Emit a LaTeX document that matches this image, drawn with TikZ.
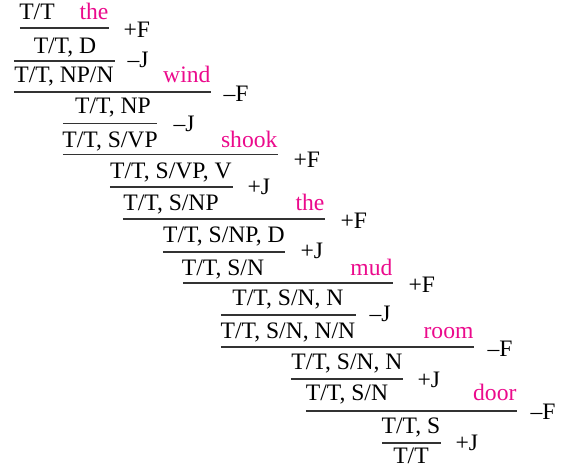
\documentclass[tikz,border=0pt]{standalone}
\usepackage{fontspec}
\setmainfont{Liberation Serif}
\usetikzlibrary{calc}
\definecolor{wordpink}{RGB}{235,10,140}

\begin{document}
\begin{tikzpicture}[%
        x = 0.5pt,
        y = -0.5pt,
        draw = black!80,
        line width = 0.55pt,
        font = \fontsize{11.8}{14}\selectfont,
        cat/.style = {inner sep = 0pt, anchor = base},
        word/.style = {inner sep = 0pt, anchor = base east, text = wordpink},
        rulename/.style = {inner sep = 0pt, anchor = base west},
        ]

\useasboundingbox (0,0) rectangle (570,473);

% categories, top to bottom
\node (c1) [cat] at (37,19) {T/T};
\node (c2) [cat] at (65,53) {T/T, D};
\node (c3) [cat] at (64,82) {T/T, NP/N};
\node (c4) [cat] at (113,113) {T/T, NP};
\node (c5) [cat] at (110,147) {T/T, S/VP};
\node (c6) [cat] at (171,178) {T/T, S/VP, V};
\node (c7) [cat] at (171,210) {T/T, S/NP};
\node (c8) [cat] at (224,242) {T/T, S/NP, D};
\node (c9) [cat] at (223,275) {T/T, S/N};
\node (c10) [cat] at (288,305) {T/T, S/N, N};
\node (c11) [cat] at (288,338) {T/T, S/N, N/N};
\node (c12) [cat] at (347,369) {T/T, S/N, N};
\node (c13) [cat] at (347,400) {T/T, S/N};
\node (c14) [cat] at (411,433) {T/T, S};
\node (c15) [cat] at (411,463) {T/T};

% inference bars
\foreach \LEFT/\RIGHT/\YPOS [count=\INDEX] in {%
        20/109/28, 14/115/61, 14/211/92, 63/157/123.5,
        63/278/154.5, 110/233/187, 123/325/219, 163/285/252,
        183/393/283, 221/356/315, 221/474/347, 291/403/379,
        306/517/411, 382/441/443}{%
    \coordinate (b\INDEX) at (\RIGHT,\YPOS);
    \draw (\LEFT,\YPOS) -- (b\INDEX);
    }

% words, flush with the right end of their bar
\foreach \POSI/\YPOS/\NAME in {b1/19/the, b3/82/wind, b5/147/shook,
        b7/210/the, b9/275/mud, b11/338/room, b13/400/door}{%
    \node (w\POSI) [word] at (\POSI |- 0,\YPOS) {\NAME};
    }

% rule names
\foreach \XPOS/\YPOS/\NAME [count=\INDEX] in {%
        123/37/+F, 127/67/–J, 223/101/–F, 173/131/–J,
        293/167/+F, 247/194/+J, 340/228/+F, 300/258/+J,
        408/292/+F, 369/321/–J, 487/356/–F, 417/387/+J,
        530/419/–F, 455/450/+J}{%
    \node (r\INDEX) [rulename] at (\XPOS,\YPOS) {\NAME};
    }

\end{tikzpicture}
\end{document}
